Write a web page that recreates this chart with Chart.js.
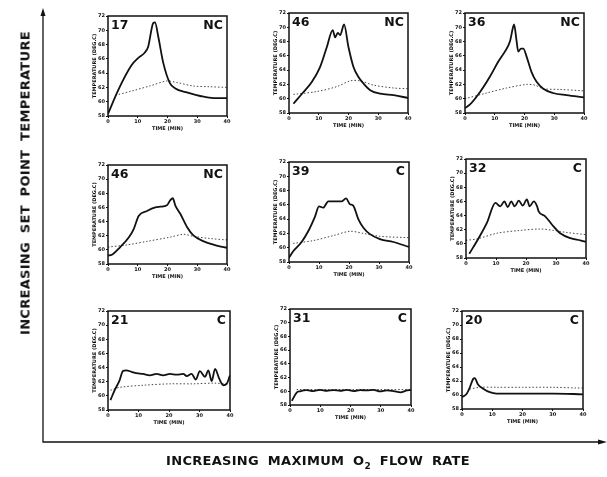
<!DOCTYPE html>
<html>
<head>
<meta charset="utf-8">
<script src="https://cdn.jsdelivr.net/npm/chart.js@4.4.0/dist/chart.umd.min.js"></script>
<style>
  body { margin: 0; background: #fff; }
  #page { position: relative; width: 607px; height: 477px; overflow: hidden; background: #fff; font-family: "DejaVu Sans", sans-serif; }
  #page canvas { position: absolute; }
  .big { position: absolute; font-weight: bold; font-size: 13px; color: #111; white-space: nowrap; word-spacing: 4px; letter-spacing: 0.3px; }
  #ylab { left: 25px; top: 183px; transform: translate(-50%, -50%) rotate(-90deg); }
  #xlab { left: 318px; top: 462px; transform: translate(-50%, -50%); }
</style>
</head>
<body>
<div id="page">
  <canvas id="arrows" width="607" height="477" style="left:0;top:0"></canvas>
  <div class="big" id="ylab">INCREASING SET POINT TEMPERATURE</div>
  <div class="big" id="xlab">INCREASING MAXIMUM O<sub style="font-size:9px">2</sub> FLOW RATE</div>
</div>
<script>
// axis ticks
const xTicks = [0, 10, 20, 30, 40];
const yTicks = [58, 60, 62, 64, 66, 68, 70, 72];

// panel labels (run number, control mode)
const panelNumbers = ['17', '46', '36', '46', '39', '32', '21', '31', '20'];
const panelModes = ['NC', 'NC', 'NC', 'NC', 'C', 'C', 'C', 'C', 'C'];

// panel 1 (17 NC)
const p1Time = [0, 3.4, 7.9, 10.1, 12.4, 13.5, 15.2, 15.8, 16.9, 18.6, 20.8, 22.5, 26.5, 31, 35.5, 40];
const p1Temp = [58.3, 61.6, 65.1, 66.1, 66.9, 67.7, 71.0, 71.1, 69.1, 65.4, 62.6, 61.9, 61.3, 60.8, 60.5, 60.5];
const p1SetTime = [2.5, 8, 14, 19.7, 23, 28.7, 34, 40];
const p1Set = [60.9, 61.5, 62.2, 62.9, 62.7, 62.2, 62.1, 62.0];

// panel 2 (46 NC)
const p2Time = [1.5, 4.8, 7.6, 10.4, 12.7, 14.7, 15.5, 16.4, 17.2, 18.5, 20, 21.7, 23.4, 25.1, 27.3, 30.7, 35.2, 40];
const p2Temp = [59.3, 60.9, 62.3, 64.4, 67.2, 69.6, 68.6, 69.2, 68.9, 70.4, 67.2, 64.4, 63.0, 62.1, 61.2, 60.7, 60.5, 60.1];
const p2SetTime = [1.5, 9.3, 16.1, 20.6, 23.9, 28.4, 35.2, 40];
const p2Set = [60.6, 61.0, 61.7, 62.5, 62.5, 61.9, 61.5, 61.4];

// panel 3 (36 NC)
const p3Time = [0, 1.7, 5, 8.4, 11.2, 13.4, 15.1, 16.2, 16.5, 17.3, 17.9, 18.8, 19.6, 20.7, 22.3, 24, 26.3, 29.6, 34.1, 40];
const p3Temp = [58.7, 59.2, 60.9, 63.1, 65.2, 66.6, 68.0, 70.1, 70.4, 68.2, 66.6, 67.0, 67.0, 65.9, 63.8, 62.4, 61.4, 60.8, 60.5, 60.2];
const p3SetTime = [0, 7.3, 14, 20.7, 23.5, 26.3, 31.8, 40];
const p3Set = [60.0, 60.8, 61.5, 62.0, 61.9, 61.4, 61.3, 61.1];

// panel 4 (46 NC)
const p4Time = [0, 1.3, 4.1, 6.9, 8.6, 10.3, 13.1, 15.9, 17.6, 19.8, 20.9, 21.8, 22.6, 24.3, 26.6, 28.8, 32.2, 36.6, 40];
const p4Temp = [59.2, 59.3, 60.4, 61.7, 62.9, 64.8, 65.5, 66.0, 66.1, 66.3, 67.0, 67.3, 66.3, 65.1, 63.2, 62.0, 61.2, 60.6, 60.3];
const p4SetTime = [0, 6.4, 13.1, 20.9, 25.4, 28.8, 34.4, 40];
const p4Set = [60.4, 60.7, 61.2, 61.8, 62.2, 61.9, 61.6, 61.4];

// panel 5 (39 C)
const p5Time = [0, 1.4, 4.2, 6.4, 8.7, 10, 11.4, 13.1, 15.3, 17.6, 19, 20.3, 21.4, 23.1, 24.8, 27, 30.3, 34.8, 40];
const p5Temp = [58.6, 59.5, 60.8, 62.3, 64.4, 65.8, 65.6, 66.5, 66.5, 66.5, 66.9, 66.1, 65.9, 64.0, 62.8, 61.9, 61.2, 60.8, 60.1];
const p5SetTime = [1.4, 8.1, 14.8, 20.3, 24.8, 30.3, 40];
const p5Set = [60.6, 61.0, 61.7, 62.3, 62.0, 61.6, 61.4];

// panel 6 (32 C)
const p6Time = [1.1, 4.2, 7, 9.8, 11.4, 12.8, 13.9, 15.1, 16.2, 17.6, 18.9, 20.3, 21.2, 22.6, 23.7, 24.2, 26.4, 28.7, 31.4, 34.8, 38.1, 40];
const p6Temp = [58.6, 60.8, 63.0, 65.8, 65.3, 66.0, 65.2, 66.0, 65.3, 66.1, 65.4, 66.3, 65.3, 66.0, 65.3, 64.6, 63.9, 62.7, 61.5, 60.8, 60.5, 60.3];
const p6SetTime = [0, 3.7, 10.3, 18.1, 24.8, 29.2, 33.7, 40];
const p6Set = [60.5, 60.7, 61.5, 61.9, 62.1, 61.9, 61.6, 61.3];

// panel 7 (21 C)
const p7Time = [0.8, 2.2, 3.8, 4.9, 6, 7.7, 9.3, 11.5, 13.7, 15.9, 18.1, 20.3, 22.5, 24.7, 25.8, 27.4, 28.8, 30.1, 31.8, 32.9, 34, 35.1, 36.5, 37.8, 38.9, 40];
const p7Temp = [59.4, 60.8, 62.2, 63.5, 63.6, 63.4, 63.2, 63.1, 62.9, 63.1, 62.9, 63.1, 63.0, 63.1, 62.8, 63.1, 62.3, 63.5, 62.7, 63.6, 62.1, 63.8, 62.4, 61.5, 61.7, 62.9];
const p7SetTime = [0.8, 3.8, 11.5, 20.3, 28, 34.5, 40];
const p7Set = [60.8, 61.2, 61.5, 61.7, 61.7, 61.8, 61.7];

// panel 8 (31 C)
const p8Time = [0.6, 2.2, 3.3, 5.5, 7.7, 9.9, 12.2, 14.4, 16.6, 18.8, 21, 23.2, 25.4, 27.6, 29.8, 32, 34.3, 36.5, 38.7, 40];
const p8Temp = [58.6, 59.8, 60.0, 60.17, 60.03, 60.22, 60.08, 60.17, 60.08, 60.22, 60.03, 60.17, 60.13, 60.22, 59.98, 60.13, 60.03, 59.84, 60.13, 60.17];
const p8SetTime = [2.2, 10, 20, 30, 40];
const p8Set = [60.25, 60.25, 60.25, 60.25, 60.25];

// panel 9 (20 C)
const p9Time = [0, 1.4, 2.5, 3.7, 4.2, 5.3, 7, 9.2, 11.4, 19.2, 30.2, 40];
const p9Temp = [59.7, 60.1, 61.0, 62.3, 62.4, 61.5, 60.9, 60.4, 60.2, 60.2, 60.2, 60.1];
const p9SetTime = [2.5, 5.9, 11.4, 20, 30, 38, 40];
const p9Set = [60.85, 61.1, 61.1, 61.1, 61.1, 61.0, 61.0];

const measured = [[p1Time, p1Temp], [p2Time, p2Temp], [p3Time, p3Temp], [p4Time, p4Temp], [p5Time, p5Temp], [p6Time, p6Temp], [p7Time, p7Temp], [p8Time, p8Temp], [p9Time, p9Temp]];
const setpoint = [[p1SetTime, p1Set], [p2SetTime, p2Set], [p3SetTime, p3Set], [p4SetTime, p4Set], [p5SetTime, p5Set], [p6SetTime, p6Set], [p7SetTime, p7Set], [p8SetTime, p8Set], [p9SetTime, p9Set]];

// plot area of each panel on the page: left, top, right, bottom
const plotBoxes = [
    [108, 16, 227, 116], [289, 13, 408, 113], [465, 13, 584, 113],
    [108, 165, 227, 264], [289, 162, 409, 262], [466, 159, 586, 258],
    [108, 311, 230, 410], [290, 309, 411, 405], [462, 311, 583, 409]
];

const Y_W = 16, X_H = 16, PAD_L = 2, PAD_R = 5, PAD_T = 5;
const tickFont = { family: 'DejaVu Sans', size: 5, weight: 'bold' };

function toPoints(xs, ys) {
    return xs.map((x, i) => ({ x: x, y: ys[i] }));
}

// frame around the plot + big run / mode labels
const panelDecor = {
    id: 'panelDecor',
    afterDraw(chart) {
        const a = chart.chartArea;
        const ctx = chart.ctx;
        const idx = chart.options.plugins.panelDecor.index;
        ctx.save();
        ctx.strokeStyle = '#111';
        ctx.lineWidth = 1.5;
        ctx.strokeRect(a.left, a.top, a.right - a.left, a.bottom - a.top);
        ctx.fillStyle = '#111';
        ctx.font = 'bold 12.5px "DejaVu Sans"';
        ctx.textBaseline = 'top';
        ctx.textAlign = 'left';
        ctx.fillText(panelNumbers[idx], a.left + 3, a.top + 3);
        ctx.textAlign = 'right';
        ctx.fillText(panelModes[idx], a.right - 4, a.top + 3);
        ctx.restore();
    }
};

const page = document.getElementById('page');

plotBoxes.forEach((b, i) => {
    const cv = document.createElement('canvas');
    const w = (b[2] - b[0]) + Y_W + PAD_L + PAD_R;
    const h = (b[3] - b[1]) + PAD_T + X_H;
    cv.width = w;
    cv.height = h;
    cv.style.left = (b[0] - Y_W - PAD_L) + 'px';
    cv.style.top = (b[1] - PAD_T) + 'px';
    page.appendChild(cv);

    new Chart(cv.getContext('2d'), {
        type: 'line',
        data: {
            datasets: [{
                data: toPoints(measured[i][0], measured[i][1]),
                borderColor: '#111',
                borderWidth: 1.8,
                pointRadius: 0,
                cubicInterpolationMode: 'monotone'
            }, {
                data: toPoints(setpoint[i][0], setpoint[i][1]),
                borderColor: '#333',
                borderWidth: 0.9,
                borderDash: [1.5, 2],
                pointRadius: 0,
                tension: 0.3
            }]
        },
        options: {
            responsive: false,
            animation: false,
            devicePixelRatio: 1,
            layout: { padding: { left: PAD_L, right: PAD_R, top: PAD_T, bottom: 0 } },
            plugins: {
                legend: { display: false },
                tooltip: { enabled: false },
                panelDecor: { index: i }
            },
            scales: {
                x: {
                    type: 'linear',
                    min: 0,
                    max: 40,
                    afterBuildTicks: s => { s.ticks = xTicks.map(v => ({ value: v })); },
                    afterFit: s => { s.height = X_H; },
                    grid: { display: true, drawOnChartArea: false, tickLength: 2, color: '#111' },
                    border: { display: false },
                    ticks: { font: tickFont, color: '#111', padding: 1, maxRotation: 0, autoSkip: false },
                    title: { display: true, text: 'TIME (MIN)', font: tickFont, color: '#111', padding: 0 }
                },
                y: {
                    min: 58,
                    max: 72,
                    afterBuildTicks: s => { s.ticks = yTicks.map(v => ({ value: v })); },
                    afterFit: s => { s.width = Y_W; },
                    grid: { display: true, drawOnChartArea: false, tickLength: 2, color: '#111' },
                    border: { display: false },
                    ticks: { font: tickFont, color: '#111', padding: 1, autoSkip: false },
                    title: { display: true, text: 'TEMPERATURE (DEG.C)', font: tickFont, color: '#111', padding: 0 }
                }
            }
        },
        plugins: [panelDecor]
    });
});

// big axis arrows of the figure
const ac = document.getElementById('arrows').getContext('2d');
ac.strokeStyle = '#111';
ac.fillStyle = '#111';
ac.lineWidth = 1.3;
ac.beginPath();
ac.moveTo(43, 14);
ac.lineTo(43, 442);
ac.lineTo(600, 442);
ac.stroke();
ac.beginPath();
ac.moveTo(43, 8); ac.lineTo(40.5, 16); ac.lineTo(45.5, 16); ac.closePath();
ac.fill();
ac.beginPath();
ac.moveTo(607, 442); ac.lineTo(598, 439.5); ac.lineTo(598, 444.5); ac.closePath();
ac.fill();
</script>
</body>
</html>
